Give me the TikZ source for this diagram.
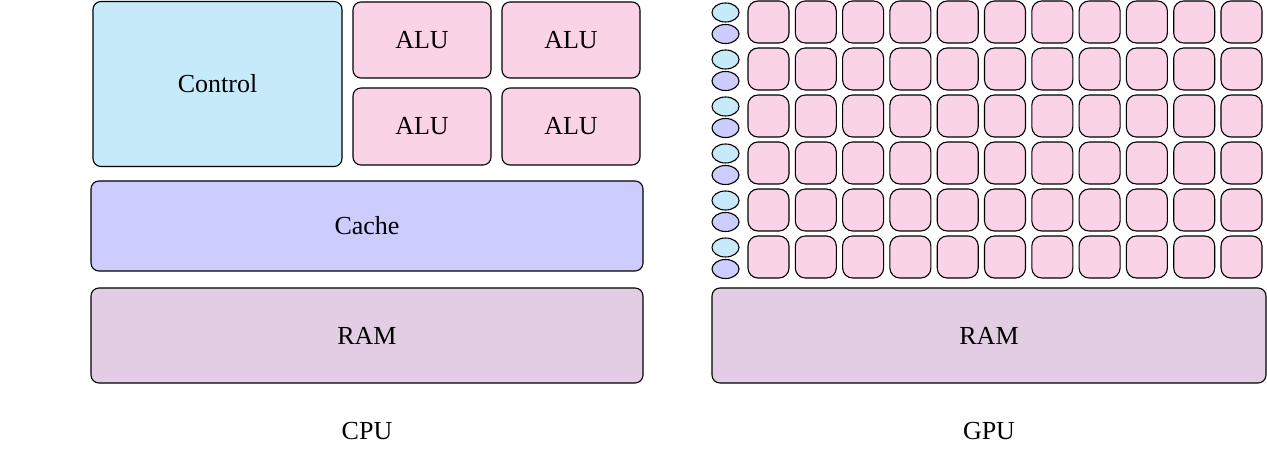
\documentclass[tikz,border=0pt]{standalone}
\usepackage{fontspec}
\setmainfont{Liberation Serif}
\usetikzlibrary{shapes.geometric}
\definecolor{ctrlc}{RGB}{199,234,250}
\definecolor{aluc}{RGB}{250,211,230}
\definecolor{cachec}{RGB}{204,204,255}
\definecolor{ramc}{RGB}{227,205,228}
\tikzset{
  blk/.style={draw=black, line width=1.1pt, rounded corners=8pt, inner sep=0pt, font=\fontsize{26}{30}\selectfont},
  core/.style={draw=black, line width=1.1pt, rounded corners=10pt, fill=aluc, inner sep=0pt, minimum width=41pt, minimum height=42pt},
  ell/.style={draw=black, line width=1.1pt, ellipse, inner sep=0pt, minimum width=27pt, minimum height=19pt},
  lbl/.style={inner sep=0pt, font=\fontsize{26}{30}\selectfont}
}
\begin{document}
\begin{tikzpicture}[x=1pt,y=-1pt]
\useasboundingbox (0,0) rectangle (1267,449);
% CPU
\node[blk, fill=ctrlc, minimum width=249pt, minimum height=165pt] (ctrl) at (217.5,84) {Control};
\node[blk, fill=aluc, minimum width=138pt, minimum height=76pt] (alu1) at (422,40) {ALU};
\node[blk, fill=aluc, minimum width=138pt, minimum height=76pt] (alu2) at (571,40) {ALU};
\node[blk, fill=aluc, minimum width=138pt, minimum height=77pt] (alu3) at (422,126.5) {ALU};
\node[blk, fill=aluc, minimum width=138pt, minimum height=77pt] (alu4) at (571,126.5) {ALU};
\node[blk, fill=cachec, minimum width=552pt, minimum height=90pt] (cache) at (367,226) {Cache};
\node[blk, fill=ramc, minimum width=552pt, minimum height=95pt] (ramcpu) at (367,335.5) {RAM};
\node[lbl] (cpu) at (367,431) {CPU};
% GPU
\foreach \i in {0,...,5}{
  \node[ell, fill=ctrlc] (gc-\i) at (725.5,{12.5+47*\i}) {};
  \node[ell, fill=cachec] (gl-\i) at (725.5,{34+47*\i}) {};
  \foreach \j in {0,...,10}{
    \node[core] (g-\i-\j) at ({768.5+47.3*\j},{22+47*\i}) {};
  }
}
\node[blk, fill=ramc, minimum width=554pt, minimum height=95pt] (ramgpu) at (989,335.5) {RAM};
\node[lbl] (gpu) at (989,431) {GPU};
\end{tikzpicture}
\end{document}
